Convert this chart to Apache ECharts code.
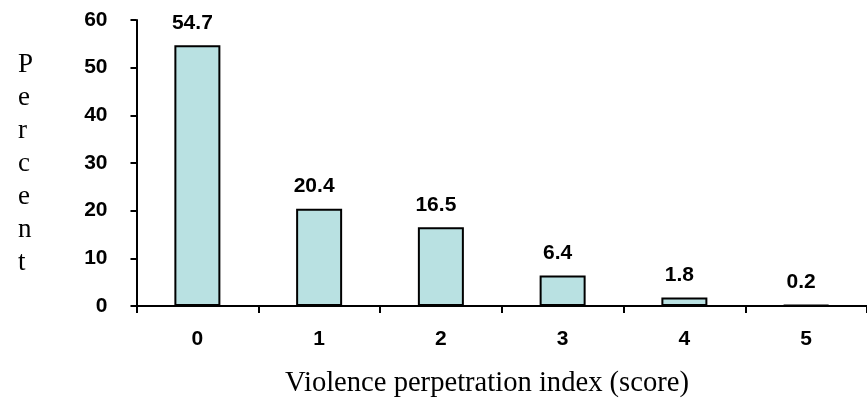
<!DOCTYPE html>
<html>
<head>
<meta charset="utf-8">
<script src="https://cdn.jsdelivr.net/npm/echarts@6/dist/echarts.min.js"></script>
<style>html,body{margin:0;padding:0;background:#fff}#c{width:867px;height:401px}</style>
</head>
<body>
<div id="c"></div>
<script>
var categories = ['0', '1', '2', '3', '4', '5'];
var percentValues = [54.7, 20.4, 16.5, 6.4, 1.8, 0.2];
var yTicks = [0, 10, 20, 30, 40, 50, 60];

var chart = echarts.init(document.getElementById('c'), null, {renderer: 'canvas'});
chart.setOption({
  animation: false,
  backgroundColor: '#ffffff',
  grid: {left: 136.5, right: -4.5, top: 20, bottom: 95, containLabel: false},
  graphic: [
    {type: 'text', left: 18, top: 48, style: {text: 'Percent'.split('').join('\n'), font: '27px "Liberation Serif", "Times New Roman", serif', lineHeight: 33, fill: '#000'}},
    {type: 'text', left: 285, top: 369, style: {text: 'Violence perpetration index (score)', font: '28.6px "Liberation Serif", "Times New Roman", serif', fill: '#000'}}
  ],
  xAxis: {
    type: 'category',
    data: categories,
    axisLine: {lineStyle: {color: '#000', width: 2}},
    axisTick: {show: true, alignWithLabel: false, length: 7, lineStyle: {color: '#000', width: 2}},
    axisLabel: {color: '#000', fontWeight: 'bold', fontSize: 21, fontFamily: 'Liberation Sans, Arial, sans-serif', margin: 23},
    splitLine: {show: false}
  },
  yAxis: {
    type: 'value',
    min: yTicks[0],
    max: yTicks[yTicks.length - 1],
    interval: 10,
    axisLine: {show: true, lineStyle: {color: '#000', width: 2}},
    axisTick: {show: true, length: 6, lineStyle: {color: '#000', width: 2}},
    axisLabel: {color: '#000', fontWeight: 'bold', fontSize: 21, fontFamily: 'Liberation Sans, Arial, sans-serif', margin: 29},
    splitLine: {show: false}
  },
  series: [{
    type: 'bar',
    data: percentValues,
    barWidth: 46,
    itemStyle: {color: '#B9E1E2', borderColor: '#000', borderWidth: 2},
    label: {show: true, position: 'top', distance: 12, offset: [-5, 0], color: '#000', fontWeight: 'bold', fontSize: 21, fontFamily: 'Liberation Sans, Arial, sans-serif'}
  }]
});
</script>
</body>
</html>
